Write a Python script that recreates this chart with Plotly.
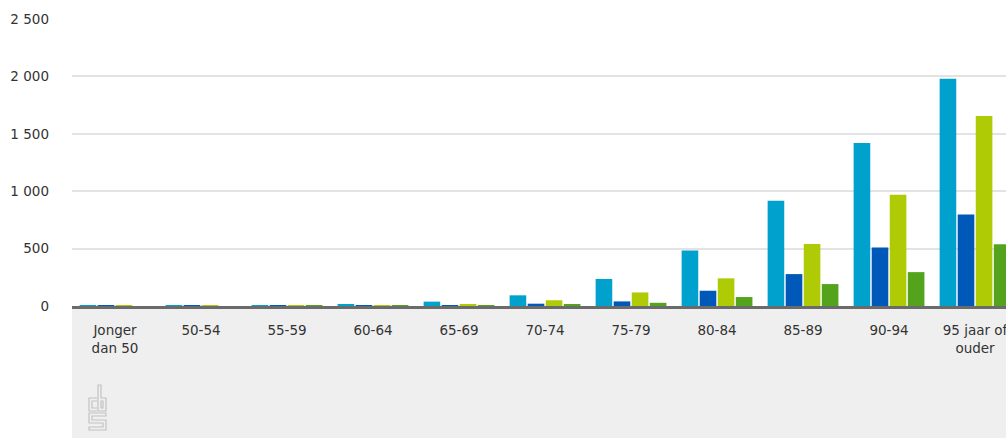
import plotly.graph_objects as go

categories = ["Jonger<br>dan 50", "50-54", "55-59", "60-64", "65-69", "70-74",
              "75-79", "80-84", "85-89", "90-94", "95 jaar of<br>ouder"]
series_a = [2, 2, 4, 12, 38, 93, 235, 484, 916, 1420, 1980]
series_b = [1, 1, 1, 3, 8, 20, 40, 133, 278, 510, 797]
series_c = [1, 1, 2, 5, 14, 50, 118, 241, 539, 970, 1655]
series_d = [0, 0, 1, 2, 4, 10, 28, 78, 191, 295, 537]
colors = ["#00a1cd", "#0058b8", "#afcb05", "#53a31d"]
ytick_vals = [0, 500, 1000, 1500, 2000, 2500]
ytick_text = ["0", "500", "1 000", "1 500", "2 000", "2 500"]

W, H = 1006, 438
L, R, T, B = 72, 0, 19, 132
pw, ph = W - L - R, H - T - B

fig = go.Figure()
for vals, col in zip([series_a, series_b, series_c, series_d], colors):
    fig.add_trace(go.Bar(x=categories, y=vals, marker=dict(color=col, line=dict(width=0)),
                         showlegend=False))

def px(x):
    return (x - L) / pw

def py(y):
    return (H - B - y) / ph

shapes = [
    dict(type="rect", xref="paper", yref="paper", x0=0, x1=1, y0=py(438), y1=py(307),
         fillcolor="#efefef", line=dict(width=0), layer="below"),
]

def path(points, close=False):
    s = "M " + " L ".join(f"{px(a):.5f},{py(b):.5f}" for a, b in points)
    return s + (" Z" if close else "")

logo_col = "#c2c2c2"
logo_paths = [
    ([(97, 398), (89, 398), (89, 411), (97, 411)], False),
    ([(97, 401), (92, 401), (92, 408), (97, 408)], False),
    ([(98, 385), (98, 411), (106, 411), (106, 398), (101, 398), (101, 385)], True),
    ([(101, 401), (103, 401), (103, 408), (101, 408)], True),
    ([(106, 413), (89, 413), (89, 423), (103, 423), (103, 427), (89, 427), (89, 430),
      (106, 430), (106, 420), (92, 420), (92, 416), (106, 416)], True),
]
for p, c in logo_paths:
    shapes.append(dict(type="path", xref="paper", yref="paper", path=path(p, c),
                       line=dict(color=logo_col, width=1.2)))

fig.update_layout(
    width=W, height=H,
    margin=dict(l=L, r=R, t=T, b=B, autoexpand=False),
    paper_bgcolor="white", plot_bgcolor="white",
    barmode="group", bargap=0.16, bargroupgap=0.08,
    font=dict(family="DejaVu Sans", size=13, color="#333333"),
    shapes=shapes,
    xaxis=dict(range=[-0.5, 10.36], showgrid=False, showline=True, linecolor="#6b6b6b",
               linewidth=2.5, zeroline=False, ticks="outside", ticklen=10,
               tickcolor="rgba(0,0,0,0)", tickfont=dict(size=13.5, color="#333333"),
               fixedrange=True, automargin=False),
    yaxis=dict(range=[0, 2500], tickvals=ytick_vals, ticktext=ytick_text,
               showgrid=True, gridcolor="#e3e3e3", gridwidth=1.5, zeroline=False,
               showline=False, ticklabelstandoff=22,
               tickfont=dict(size=13.5, color="#333333"), fixedrange=True,
               automargin=False),
)

fig.write_html(
    "out.html",
    config=dict(displayModeBar=False),
    post_script="document.body.style.margin='0';document.body.style.overflow='hidden';",
)
